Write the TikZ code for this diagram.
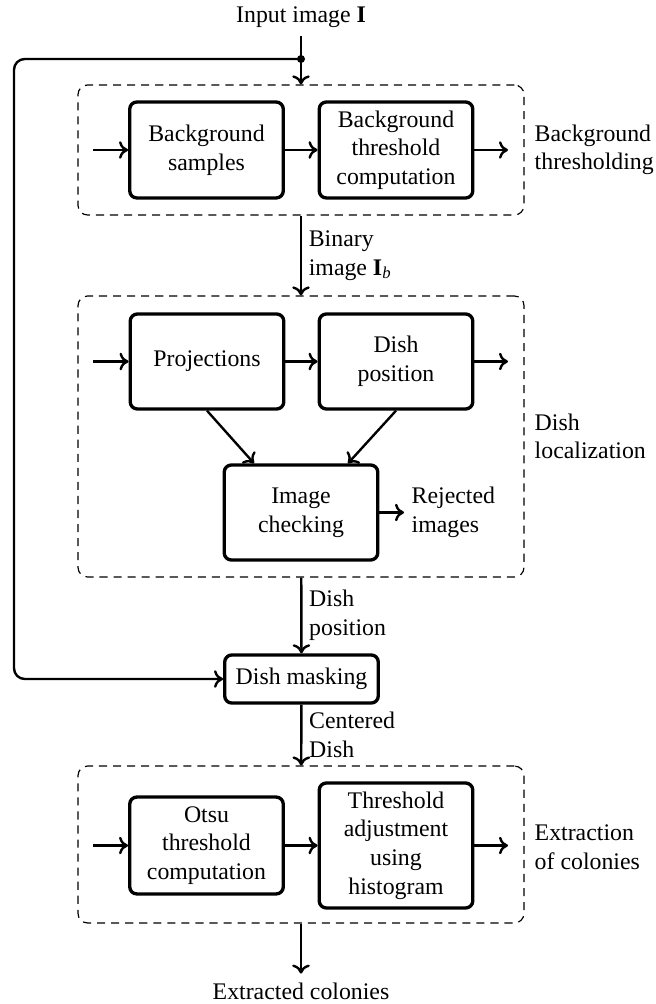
\documentclass[tikz,border=0pt]{standalone}
\usepackage{fontspec}
\setmainfont{Liberation Serif}
\usetikzlibrary{arrows.meta, positioning, calc}
\tikzset{
  every picture/.style={line width=0.9pt},
  box/.style={draw, line width=1.4pt, rounded corners=3pt, align=center, minimum width=64.5pt, minimum height=#1, inner sep=2pt},
  box/.default=40.3pt,
  group/.style={draw, dash pattern=on 3.4pt off 2.5pt, line width=0.5pt, rounded corners=4pt, minimum width=187.3pt, minimum height=#1},
  arrow/.style={-{To[length=3.8pt, width=7.4pt]}, line width=1pt},
  note/.style={align=left, inner sep=2.8pt},
}

\begin{document}
\begin{tikzpicture}[x=0.42pt, y=-0.42pt]
  \useasboundingbox (0,0) rectangle (655,1004);
  % input and split point
  \node (in) at (301,17) {Input image \textbf{I}};
  \coordinate (split) at (301,59);
  \coordinate (corner) at (14,59);
  % background thresholding
  \node[group=54.6pt] (grp1) at (301,150) {};
  \node[box] (bgs) at (206.5,150) {Background\\samples};
  \node[box] (bgt) at (396,150) {Background\\threshold\\computation};
  \node[note, anchor=west] (lbl1) at (527,150) {Background\\thresholding};
  % dish localization
  \node[group=118pt] (grp2) at (301,436.5) {};
  \node[box=39.9pt] (proj) at (207,361.5) {Projections};
  \node[box=39.9pt] (dpos) at (396,361.5) {Dish\\position};
  \node[box=39.9pt] (chk) at (301,512.5) {Image\\checking};
  \node[note, anchor=west] (rej) at (404,512.5) {Rejected\\images};
  \node[note, anchor=west] (lbl2) at (527,436.5) {Dish\\localization};
  % masking
  \node[box=20.2pt] (mask) at (301.5,679) {Dish masking};
  % extraction of colonies
  \node[group=65.9pt] (grp3) at (301,844.5) {};
  \node[box=40.7pt] (otsu) at (206.5,845.5) {Otsu\\threshold\\computation};
  \node[box=52.5pt] (adj) at (396,845.5) {Threshold\\adjustment\\using\\histogram};
  \node[note, anchor=west] (lbl3) at (527,847) {Extraction\\of colonies};
  \node (out) at (301,991) {Extracted colonies};

  \foreach \a/\b/\yy in {bgs/bgt/150, proj/dpos/361.5, otsu/adj/845.5} {
    \coordinate (p\a) at (93,\yy);
    \coordinate (q\b) at (508,\yy);
    \draw[arrow] (p\a) -- (\a);
    \draw[arrow] (\a) -- (\b);
    \draw[arrow] (\b) -- (q\b);
  }
  \draw[line width=1pt] (in) -- (split);
  \fill (split) circle (4);
  \draw[arrow] (split) -- (grp1);
  \draw[arrow, rounded corners=4.5pt] (split) -- (corner) |- (mask);
  \draw[arrow] (grp1) -- node[note, right] (lb1) {Binary\\image \textbf{I}\textsubscript{\textit{b}}} (grp2);
  \draw[arrow] (proj.south) -- ($(chk.north)+(-47,0)$);
  \draw[arrow] (dpos.south) -- ($(chk.north)+(47,0)$);
  \draw[arrow] (chk) -- (rej);
  \draw[arrow] (grp2) -- node[note, right] (lb2) {Dish\\position} (mask);
  \draw[arrow] (mask) -- node[note, right] (lb3) {Centered\\Dish} (grp3);
  \draw[arrow] (grp3) -- (out);
\end{tikzpicture}
\end{document}
